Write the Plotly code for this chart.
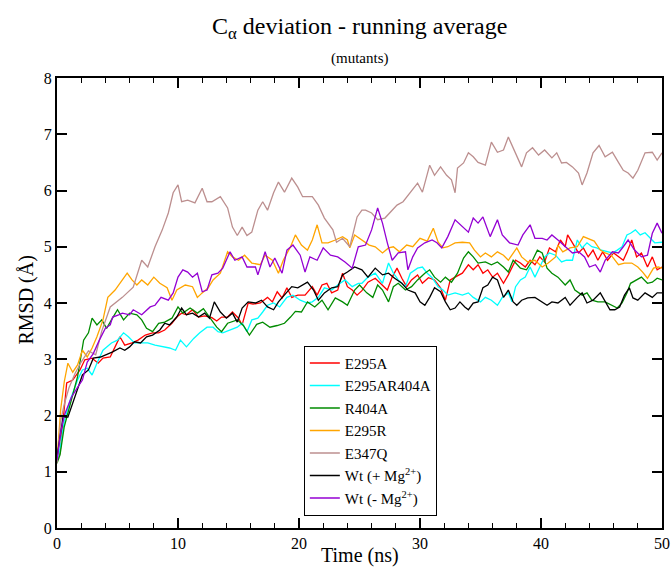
"""C-alpha deviation (running average) for the mutants."""

import plotly.graph_objects as go

# ---- data (time in ns, RMSD in Angstrom) ----
e295a_t = [0, 0.25, 0.8, 1.3, 1.9, 2.3, 2.9, 3.4, 3.8, 4.4,
           4.8, 5.2, 5.6, 6.2, 6.7, 7.3, 7.9, 8.4, 8.9, 9.5,
           9.9, 10.3, 10.7, 11.2, 11.7, 12.2, 12.8, 13.2, 13.6, 14.1,
           14.5, 15.0, 15.3, 15.8, 16.2, 16.8, 17.4, 17.8, 18.2, 18.6,
           19.0, 19.4, 19.9, 20.5, 21.1, 21.5, 21.9, 22.3, 22.7, 23.2,
           23.6, 24.0, 24.4, 24.8, 25.2, 25.7, 26.3, 26.7, 27.3, 27.7,
           28.1, 28.5, 28.9, 29.3, 29.8, 30.2, 30.7, 31.2, 31.7, 32.1,
           32.5, 32.9, 33.5, 34.0, 34.4, 34.8, 35.2, 35.6, 36.0, 36.4,
           36.9, 37.3, 37.9, 38.3, 38.7, 39.1, 39.5, 39.9, 40.3, 40.7,
           41.2, 41.6, 42.0, 42.2, 42.6, 43.1, 43.5, 43.9, 44.3, 44.7,
           45.1, 45.5, 46.0, 46.4, 46.8, 47.1, 47.5, 47.9, 48.3, 48.8,
           49.2, 49.6, 50.0]
e295a = [1.2, 1.33, 2.58, 2.63, 2.81, 2.99, 3.02, 2.93, 3.02, 3.04,
         3.22, 3.4, 3.25, 3.29, 3.34, 3.43, 3.47, 3.47, 3.52, 3.64,
         3.75, 3.82, 3.79, 3.88, 3.75, 3.77, 3.74, 3.68, 3.75, 3.75,
         3.84, 3.73, 3.61, 4.0, 3.98, 4.0, 4.1, 4.02, 4.2, 4.09,
         4.27, 4.1, 4.14, 4.14, 4.29, 4.14, 4.32, 4.35, 4.18, 4.23,
         4.53, 4.29, 4.23, 4.14, 4.22, 4.37, 4.44, 4.35, 4.23, 4.46,
         4.62, 4.44, 4.29, 4.41, 4.5, 4.35, 4.45, 4.41, 4.27, 4.05,
         4.41, 4.46, 4.53, 4.68, 4.59, 4.68, 4.53, 4.59, 4.46, 4.53,
         4.35, 4.5, 4.76, 4.71, 4.64, 4.76, 4.68, 4.82, 4.73, 4.98,
         4.91, 5.12, 5.0, 5.21, 5.07, 4.89, 4.98, 4.82, 4.94, 4.76,
         4.91, 4.76, 4.89, 4.82, 4.76, 4.9, 5.12, 4.82, 4.89, 4.64,
         4.82, 4.59, 4.64]

e295ar404a_t = [0, 0.25, 0.6, 1.1, 1.7, 2.1, 2.5, 2.9, 3.3, 3.8,
                4.5, 5.0, 5.5, 5.9, 6.4, 7.0, 7.5, 8.1, 8.8, 9.3,
                9.8, 10.2, 10.7, 11.3, 11.8, 12.4, 12.9, 13.3, 13.7, 14.3,
                14.9, 15.3, 15.7, 16.1, 16.6, 17.0, 17.4, 17.9, 18.4, 19.0,
                19.5, 20.1, 20.7, 21.1, 21.6, 22.1, 22.7, 23.2, 23.8, 24.4,
                24.9, 25.2, 25.7, 26.3, 26.9, 27.4, 27.8, 28.2, 28.8, 29.2,
                29.8, 30.2, 30.6, 31.0, 31.5, 31.9, 32.3, 32.9, 33.5, 34.0,
                34.4, 35.0, 35.4, 35.9, 36.4, 36.8, 37.3, 37.6, 37.9, 38.3,
                38.7, 39.1, 39.5, 39.9, 40.3, 40.7, 41.2, 41.7, 42.1, 42.6,
                43.0, 43.4, 43.8, 44.2, 44.6, 45.0, 45.5, 45.9, 46.3, 46.7,
                47.1, 47.4, 47.8, 48.2, 48.6, 49.0, 49.4, 50.0]
e295ar404a = [1.2, 1.4, 1.9, 2.28, 2.63, 2.81, 2.84, 2.72, 2.93, 3.16,
              3.29, 3.34, 3.47, 3.4, 3.29, 3.29, 3.29, 3.25, 3.22, 3.2,
              3.16, 3.34, 3.22, 3.37, 3.47, 3.57, 3.57, 3.49, 3.47, 3.52,
              3.57, 3.64, 3.49, 3.7, 3.73, 3.84, 3.96, 4.0, 3.93, 4.1,
              4.14, 4.05, 4.0, 4.02, 4.1, 4.27, 4.23, 4.32, 4.41, 4.29,
              4.35, 4.35, 4.46, 4.53, 4.35, 4.71, 4.53, 4.41, 4.29, 4.53,
              4.62, 4.64, 4.53, 4.45, 4.29, 4.23, 4.14, 4.18, 4.14, 4.18,
              4.1, 4.02, 4.1, 4.05, 3.96, 4.1, 4.18, 4.02, 4.29, 4.41,
              4.46, 4.64, 4.46, 4.64, 4.82, 4.89, 4.85, 4.73, 4.76, 4.76,
              5.12, 4.98, 5.07, 5.0, 4.98, 4.94, 4.91, 4.89, 4.94, 5.0,
              5.21, 5.24, 5.3, 5.21, 5.25, 5.15, 5.07, 5.08]

r404a_t = [0, 0.25, 0.6, 1.1, 1.7, 2.2, 2.6, 2.9, 3.3, 3.7,
           4.1, 4.5, 5.0, 5.5, 6.0, 6.6, 7.0, 7.4, 7.9, 8.4,
           8.9, 9.5, 10.0, 10.4, 11.0, 11.6, 12.1, 12.6, 13.2, 13.6,
           14.1, 14.9, 15.4, 15.9, 16.5, 17.0, 17.6, 18.2, 18.8, 19.3,
           19.7, 20.2, 20.7, 21.3, 21.9, 22.4, 23.0, 23.6, 24.0, 24.6,
           25.0, 25.6, 26.1, 26.5, 26.9, 27.4, 27.8, 28.2, 28.8, 29.3,
           29.8, 30.4, 30.8, 31.2, 31.7, 32.1, 32.6, 33.1, 33.6, 34.0,
           34.4, 34.8, 35.4, 35.9, 36.4, 36.9, 37.3, 37.7, 38.3, 38.8,
           39.3, 39.7, 40.1, 40.5, 40.9, 41.4, 42.0, 42.4, 42.8, 43.4,
           43.8, 44.2, 44.7, 45.3, 45.9, 46.3, 46.7, 47.1, 47.4, 47.9,
           48.3, 48.8, 49.2, 49.6, 50.0]
r404a = [1.15, 1.3, 1.8, 2.22, 2.69, 3.34, 3.47, 3.73, 3.61, 3.7,
         3.55, 3.7, 3.88, 3.7, 3.82, 3.79, 3.7, 3.55, 3.49, 3.64,
         3.66, 3.73, 3.93, 3.82, 3.91, 3.82, 3.9, 3.75, 3.57, 3.49,
         3.64, 3.7, 3.6, 3.43, 3.62, 3.66, 3.57, 3.6, 3.64, 3.75,
         3.85, 3.84, 4.02, 3.93, 4.05, 3.88, 4.09, 4.02, 3.96, 4.23,
         4.32, 4.18, 4.1, 4.32, 4.23, 4.02, 4.29, 4.35, 4.23, 4.29,
         4.41, 4.53, 4.59, 4.46, 4.37, 4.46, 4.37, 4.53, 4.8, 4.91,
         4.82, 4.71, 4.73, 4.68, 4.73, 4.64, 4.55, 4.76, 4.62, 4.59,
         4.76, 4.94, 4.89, 4.62, 4.53, 4.46, 4.32, 4.41, 4.23, 4.14,
         4.18, 4.05, 4.02, 4.02, 3.96, 3.91, 4.0, 4.18, 4.35, 4.41,
         4.46, 4.35, 4.37, 4.44, 4.41]

e295r_t = [0, 0.3, 0.6, 0.9, 1.3, 1.7, 2.1, 2.5, 2.9, 3.3,
           3.8, 4.2, 4.8, 5.4, 5.8, 6.2, 6.6, 7.0, 7.5, 8.0,
           8.5, 9.1, 9.5, 9.9, 10.6, 11.2, 11.6, 12.0, 12.5, 12.9,
           13.5, 14.1, 14.5, 15.0, 15.5, 16.1, 16.8, 17.2, 17.8, 18.3,
           18.7, 19.3, 19.7, 20.2, 20.7, 21.1, 21.5, 21.9, 22.4, 23.0,
           23.6, 24.0, 24.2, 24.6, 25.2, 25.8, 26.3, 26.9, 27.4, 27.8,
           28.3, 28.9, 29.4, 30.0, 30.6, 31.1, 31.5, 31.9, 32.3, 32.9,
           33.5, 34.1, 34.5, 35.0, 35.4, 35.9, 36.4, 36.9, 37.3, 37.7,
           38.0, 38.4, 38.9, 39.5, 40.1, 40.6, 41.2, 41.4, 41.8, 42.4,
           43.0, 43.5, 43.9, 44.4, 44.9, 45.3, 45.8, 46.4, 46.9, 47.5,
           48.0, 48.4, 48.8, 49.3, 49.7, 50.0]
e295r = [1.2, 2.1, 2.6, 2.93, 2.77, 2.9, 3.16, 3.04, 3.2, 3.4,
         3.7, 4.1, 4.23, 4.41, 4.53, 4.41, 4.32, 4.41, 4.32, 4.46,
         4.35, 4.27, 4.05, 4.23, 4.32, 4.29, 4.1, 4.18, 4.27, 4.41,
         4.53, 4.91, 4.82, 4.76, 4.85, 4.71, 4.68, 4.85, 4.76, 4.53,
         4.76, 5.0, 5.21, 5.03, 4.94, 5.12, 5.39, 5.07, 5.07, 5.12,
         5.18, 5.12, 4.98, 5.21, 5.12, 5.03, 5.0, 4.89, 4.98, 5.0,
         4.91, 5.03, 5.0, 5.15, 5.1, 5.33, 5.08, 4.98, 5.0, 5.07,
         5.08, 5.07, 4.94, 4.82, 4.89, 4.82, 4.91, 4.85, 4.76, 4.89,
         4.98, 4.82, 4.73, 4.76, 4.64, 4.71, 4.82, 5.03, 4.91, 4.98,
         5.0, 5.18, 5.15, 5.1, 4.94, 4.89, 4.85, 4.68, 4.71, 4.71,
         4.64, 4.55, 4.44, 4.62, 4.64, 4.62]

e347q_t = [0, 0.3, 0.6, 1.0, 1.5, 2.0, 2.6, 3.2, 3.7, 4.4,
           5.4, 6.3, 7.0, 7.5, 8.1, 8.7, 9.2, 9.6, 10.0, 10.3,
           10.8, 11.4, 12.0, 12.4, 12.8, 13.5, 14.1, 14.5, 14.9, 15.3,
           15.7, 16.1, 16.6, 17.0, 17.4, 17.9, 18.3, 18.8, 19.4, 19.9,
           20.3, 21.1, 21.6, 22.1, 22.8, 23.1, 23.6, 24.2, 24.8, 25.2,
           25.5, 26.0, 26.5, 27.1, 27.7, 28.1, 28.6, 29.2, 29.8, 30.2,
           30.8, 31.2, 31.7, 32.2, 32.6, 32.9, 33.1, 33.6, 34.0, 34.4,
           34.8, 35.4, 35.9, 36.4, 36.9, 37.3, 37.9, 38.4, 38.8, 39.3,
           39.8, 40.3, 40.9, 41.3, 41.7, 42.1, 42.6, 43.1, 43.4, 43.8,
           44.3, 44.8, 45.3, 45.9, 46.4, 46.8, 47.2, 47.6, 48.0, 48.6,
           49.2, 49.6, 50.0]
e347q = [1.15, 1.9, 2.2, 2.5, 2.75, 2.95, 3.15, 3.08, 3.5, 3.93,
         4.1, 4.28, 4.76, 4.64, 5.0, 5.3, 5.6, 5.96, 6.1, 5.8,
         5.83, 5.78, 6.04, 5.8, 5.8, 5.89, 5.69, 5.35, 5.2, 5.35,
         5.2, 5.26, 5.65, 5.8, 5.65, 5.96, 6.15, 5.97, 6.22, 6.06,
         5.89, 5.89, 5.74, 5.51, 5.3, 5.08, 5.15, 5.0, 5.53, 5.65,
         5.65, 5.6, 5.48, 5.51, 5.65, 5.74, 5.8, 5.97, 6.13, 5.97,
         6.45, 6.27, 6.42, 6.27, 6.19, 5.96, 6.4, 6.49, 6.67, 6.6,
         6.5, 6.45, 6.86, 6.68, 6.72, 6.95, 6.67, 6.42, 6.67, 6.76,
         6.63, 6.72, 6.58, 6.67, 6.49, 6.5, 6.42, 6.31, 6.1, 6.31,
         6.67, 6.8, 6.6, 6.68, 6.5, 6.36, 6.31, 6.22, 6.36, 6.67,
         6.68, 6.54, 6.67]

wt_mg_t = [0, 0.5, 0.9, 1.5, 2.1, 2.6, 3.0, 3.6, 4.1, 4.6,
           5.2, 5.6, 6.0, 6.4, 6.9, 7.4, 7.9, 8.5, 8.9, 9.3,
           9.9, 10.3, 10.7, 11.2, 11.7, 12.2, 12.6, 13.0, 13.5, 14.0,
           14.5, 14.9, 15.3, 15.8, 16.4, 16.9, 17.4, 17.9, 18.3, 18.8,
           19.4, 19.9, 20.5, 20.7, 21.2, 21.6, 22.1, 22.7, 23.2, 23.6,
           24.0, 24.6, 25.2, 25.7, 26.3, 26.9, 27.4, 27.9, 28.5, 29.0,
           29.6, 30.0, 30.4, 30.8, 31.2, 31.7, 32.1, 32.5, 32.9, 33.3,
           33.7, 34.0, 34.4, 34.8, 35.2, 35.6, 36.0, 36.4, 36.9, 37.3,
           37.7, 38.0, 38.4, 38.9, 39.5, 40.1, 40.5, 40.9, 41.4, 42.0,
           42.4, 43.0, 43.4, 43.8, 44.3, 44.9, 45.3, 45.7, 46.1, 46.5,
           46.9, 47.3, 47.6, 48.0, 48.6, 49.2, 49.6, 50.0]
wt_mg = [1.26, 1.97, 1.97, 2.33, 2.72, 2.81, 3.02, 3.04, 3.08, 3.13,
         3.2, 3.16, 3.22, 3.31, 3.29, 3.4, 3.43, 3.52, 3.64, 3.61,
         3.75, 3.91, 3.79, 3.82, 3.75, 3.82, 3.73, 4.02, 3.84, 3.73,
         3.82, 3.66, 3.91, 4.02, 4.0, 4.05, 3.93, 3.88, 4.02, 4.14,
         4.29, 4.27, 4.35, 4.37, 4.23, 4.05, 4.18, 4.27, 4.29, 4.5,
         4.55, 4.64, 4.59, 4.46, 4.62, 4.5, 4.53, 4.44, 4.35, 4.23,
         4.18, 4.02, 3.96, 4.1, 4.27, 4.2, 4.02, 3.88, 3.91, 4.02,
         3.93, 3.88, 4.0, 4.02, 4.27, 4.32, 4.46, 4.41, 4.1, 4.23,
         4.02, 3.96, 4.05, 4.09, 4.1, 4.02, 3.96, 4.02, 4.0, 4.1,
         3.96, 4.1, 4.18, 4.0, 4.05, 4.18, 4.02, 3.88, 3.88, 3.93,
         4.14, 4.27, 4.09, 4.05, 4.18, 4.1, 4.18, 4.18]

wt_nomg_t = [0, 0.3, 0.6, 1.2, 1.7, 2.1, 2.5, 3.0, 3.5, 4.0,
             4.4, 4.6, 5.1, 5.4, 6.0, 6.3, 7.0, 7.7, 8.1, 8.6,
             9.2, 9.6, 10.0, 10.4, 10.8, 11.2, 11.6, 12.0, 12.4, 12.8,
             13.3, 13.7, 14.3, 14.7, 15.3, 15.7, 16.4, 16.6, 17.2, 17.6,
             18.0, 18.6, 19.0, 19.5, 20.1, 20.5, 20.9, 21.5, 22.0, 22.6,
             23.2, 23.8, 24.4, 24.9, 25.5, 26.0, 26.5, 26.9, 27.3, 27.7,
             28.2, 28.8, 29.0, 29.4, 29.8, 30.4, 31.0, 31.4, 31.8, 32.3,
             32.9, 33.5, 34.0, 34.4, 34.8, 35.2, 35.8, 36.4, 36.8, 37.4,
             38.1, 38.5, 39.1, 39.5, 40.1, 40.5, 40.9, 41.4, 42.0, 42.6,
             43.1, 43.6, 44.0, 44.5, 44.9, 45.3, 45.9, 46.4, 46.8, 47.2,
             47.7, 48.3, 48.8, 49.2, 49.6, 50.0]
wt_nomg = [1.2, 1.7, 2.0, 2.33, 2.5, 2.63, 2.95, 3.1, 3.34, 3.55,
           3.61, 3.75, 3.79, 3.82, 3.79, 3.88, 3.79, 3.93, 3.96, 4.1,
           4.05, 4.18, 4.46, 4.59, 4.55, 4.46, 4.53, 4.2, 4.23, 4.5,
           4.53, 4.62, 4.91, 4.76, 4.82, 4.64, 4.64, 4.5, 4.91, 4.64,
           4.8, 4.53, 4.94, 5.03, 4.85, 4.55, 4.82, 4.76, 4.98, 4.85,
           4.82, 4.73, 4.62, 5.0, 5.03, 5.3, 5.69, 5.42, 5.07, 4.76,
           4.89, 4.91, 4.59, 4.82, 4.98, 5.07, 5.12, 5.07, 4.98, 5.18,
           5.48, 5.35, 5.26, 5.51, 5.42, 5.53, 5.18, 5.48, 5.21, 5.07,
           5.03, 5.21, 5.39, 5.15, 5.15, 5.12, 5.21, 5.12, 5.0, 4.89,
           4.91, 4.82, 4.64, 4.68, 4.55, 4.76, 4.91, 4.89, 5.0, 5.12,
           4.95, 4.82, 4.85, 5.24, 5.42, 5.24]

series = [
    ("E295A", e295a_t, e295a, "#ff0000"),
    ("E295AR404A", e295ar404a_t, e295ar404a, "#00ffff"),
    ("R404A", r404a_t, r404a, "#008b00"),
    ("E295R", e295r_t, e295r, "#ffa500"),
    ("E347Q", e347q_t, e347q, "#bc8f8f"),
    ("Wt (+ Mg<sup>2+</sup>)", wt_mg_t, wt_mg, "#000000"),
    ("Wt (- Mg<sup>2+</sup>)", wt_nomg_t, wt_nomg, "#9400d3"),
]

FONT = "Liberation Serif"

fig = go.Figure()
for name, t, v, color in series:
    n = min(len(t), len(v))
    fig.add_trace(
        go.Scatter(
            x=t[:n],
            y=v[:n],
            mode="lines",
            name=name,
            line=dict(color=color, width=1.3),
        )
    )

axis_style = dict(
    showline=True,
    linecolor="black",
    linewidth=2,
    mirror="ticks",
    ticks="inside",
    ticklen=10,
    tickwidth=1.5,
    tickcolor="black",
    showgrid=False,
    zeroline=False,
    automargin=False,
    tickfont=dict(family=FONT, size=16, color="black"),
)

fig.update_xaxes(
    range=[0, 50],
    dtick=10,
    minor=dict(dtick=2, ticks="inside", ticklen=5, tickwidth=1.2, tickcolor="black"),
    **axis_style,
)
fig.update_yaxes(range=[0, 8], dtick=1, **axis_style)

fig.update_layout(
    width=671,
    height=569,
    margin=dict(l=57, r=9, t=78, b=41),
    paper_bgcolor="white",
    plot_bgcolor="white",
    font=dict(family=FONT, color="black"),
    showlegend=True,
    legend=dict(
        x=0.408,
        y=0.405,
        xanchor="left",
        yanchor="top",
        bgcolor="white",
        bordercolor="black",
        borderwidth=1,
        font=dict(family=FONT, size=15, color="black"),
        tracegroupgap=0,
    ),
)

# titles placed as annotations to sit where the original puts them
fig.add_annotation(
    text="C<sub>α</sub> deviation - running average",
    xref="paper", yref="paper", x=0.5, y=1.112,
    xanchor="center", yanchor="middle", showarrow=False,
    font=dict(family=FONT, size=24),
)
fig.add_annotation(
    text="(mutants)",
    xref="paper", yref="paper", x=0.5, y=1.044,
    xanchor="center", yanchor="middle", showarrow=False,
    font=dict(family=FONT, size=15),
)
fig.add_annotation(
    text="Time (ns)",
    xref="paper", yref="paper", x=0.5, y=-0.062,
    xanchor="center", yanchor="middle", showarrow=False,
    font=dict(family=FONT, size=20),
)
fig.add_annotation(
    text="RMSD (Å)",
    xref="paper", yref="paper", x=-0.05, y=0.507,
    xanchor="center", yanchor="middle", showarrow=False, textangle=-90,
    font=dict(family=FONT, size=20),
)

# drop the default 8px page margin so the figure fills the window exactly
fig.write_html(
    "out.html",
    config={"displayModeBar": False},
    post_script="document.body.style.margin='0';document.body.style.overflow='hidden';",
)
